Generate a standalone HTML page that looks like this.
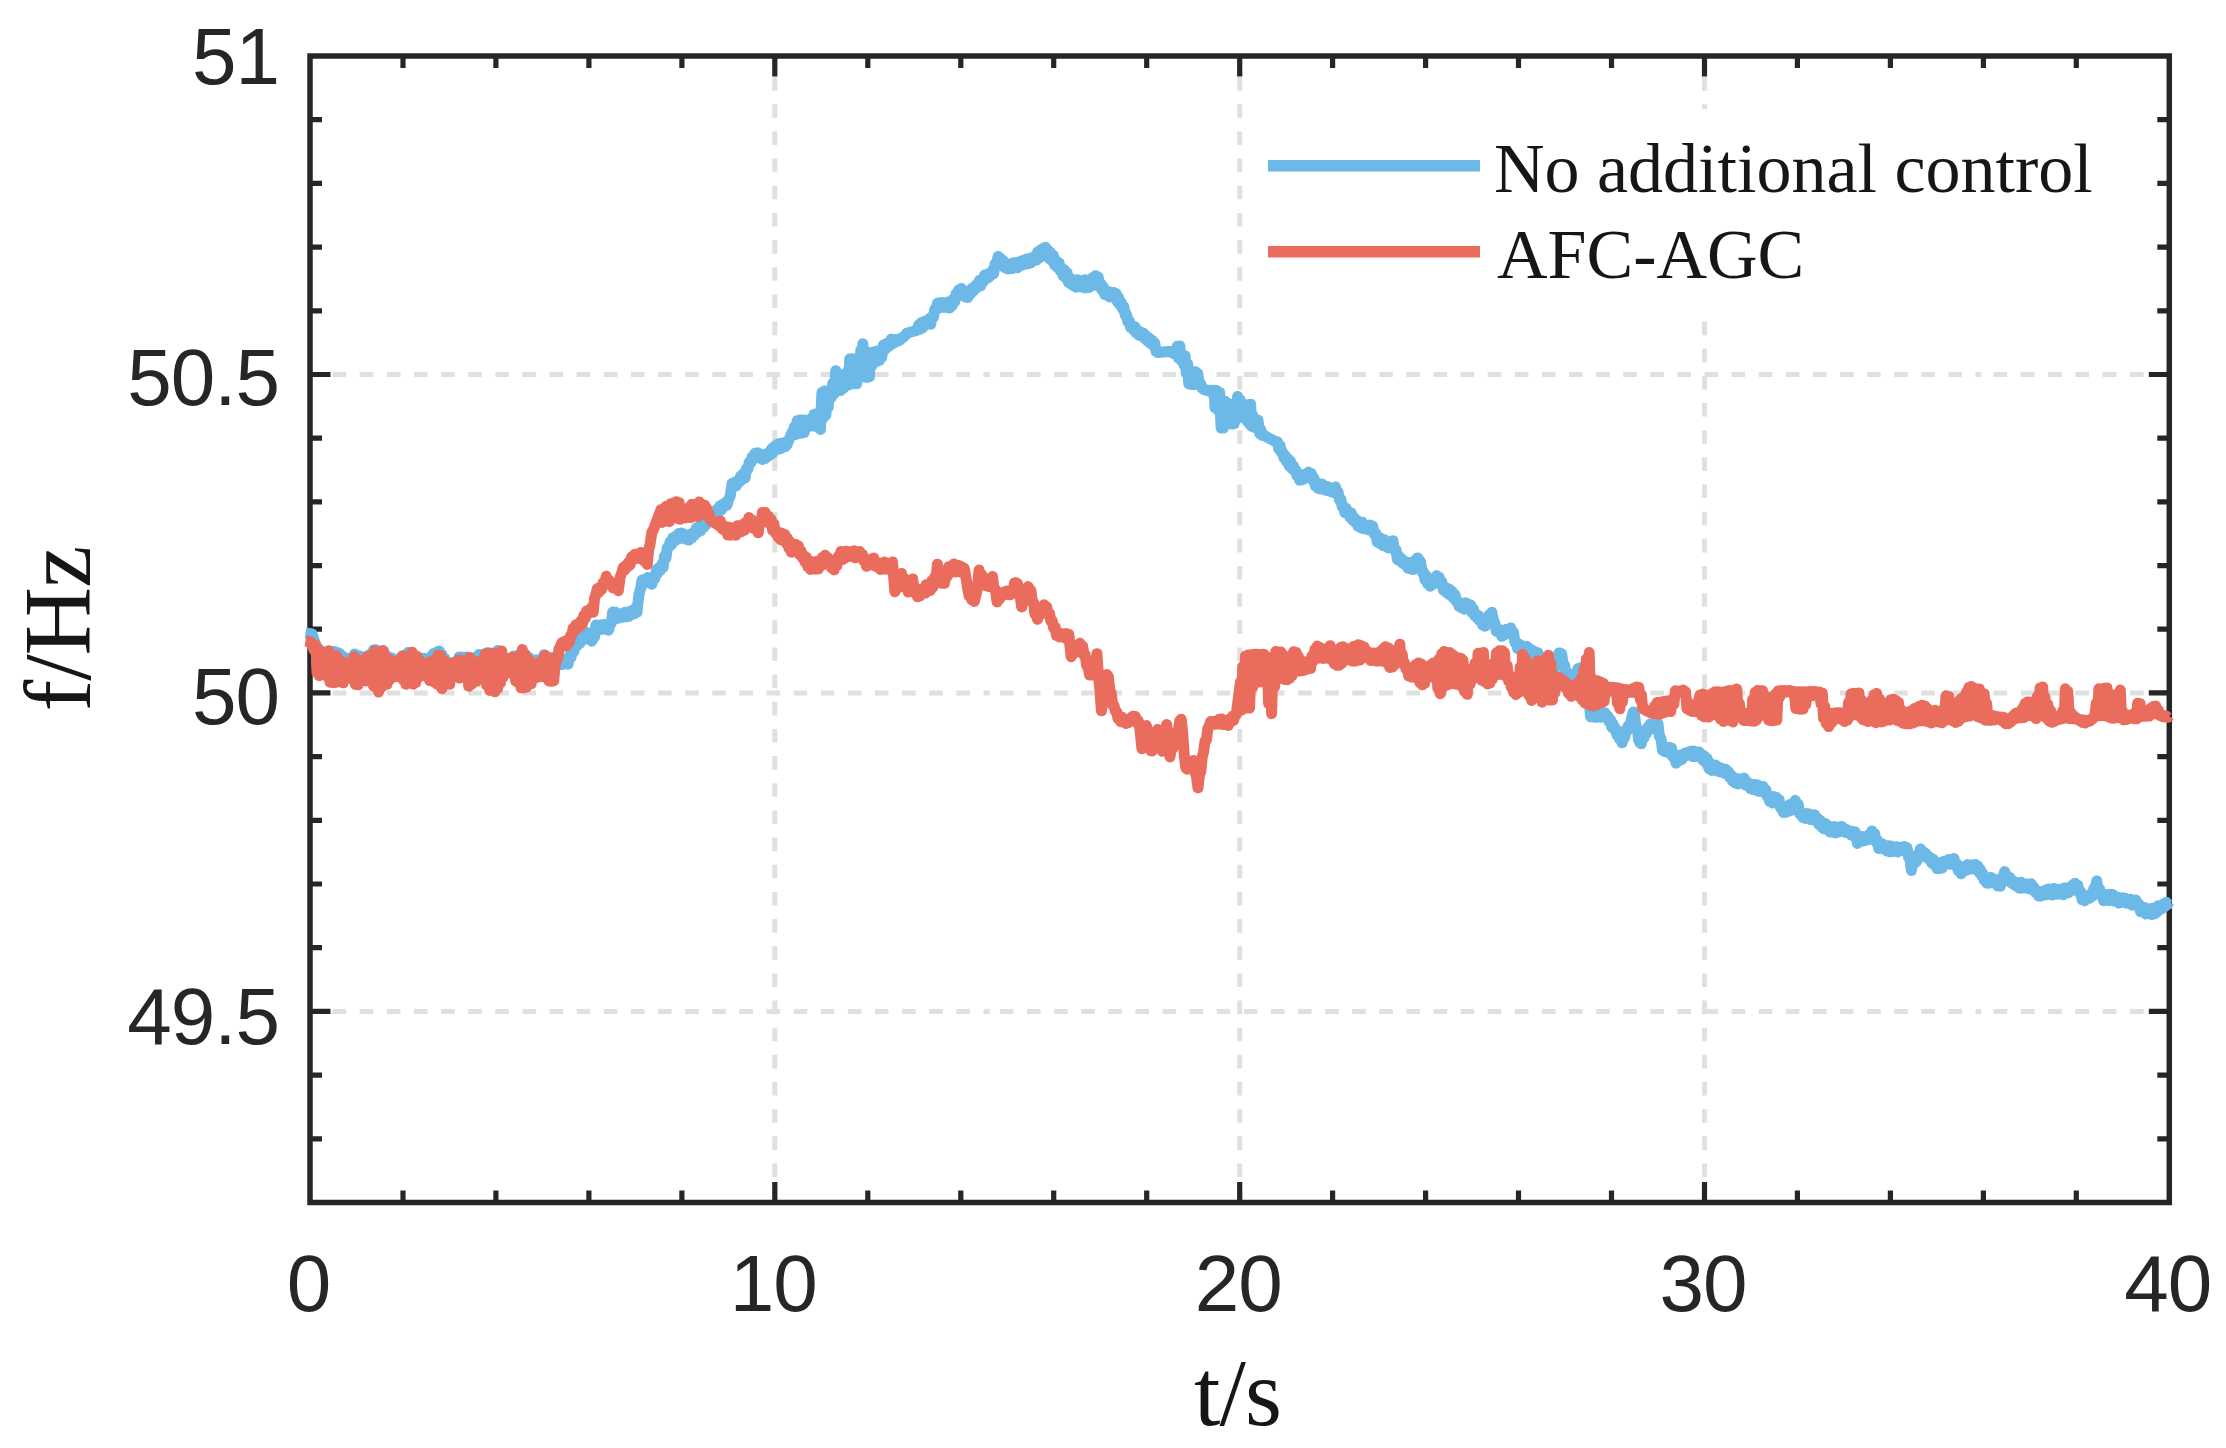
<!DOCTYPE html><html><head><meta charset="utf-8"><title>f/Hz vs t/s</title><style>html,body{margin:0;padding:0;background:#fff}svg{display:block}.tk{font-family:"Liberation Sans",sans-serif;font-size:80px;fill:#262626;letter-spacing:-1px}.lb{font-family:"Liberation Serif",serif;fill:#161616}</style></head><body>
<svg width="2226" height="1448" viewBox="0 0 2226 1448">
<rect width="2226" height="1448" fill="#fff"/>
<line x1="774.8" y1="56.0" x2="774.8" y2="1202.5" stroke="#e0e0e0" stroke-width="5" stroke-dasharray="13.6 13.56" stroke-dashoffset="6.06"/>
<line x1="1239.7" y1="56.0" x2="1239.7" y2="1202.5" stroke="#e0e0e0" stroke-width="5" stroke-dasharray="13.6 13.56" stroke-dashoffset="6.06"/>
<line x1="1704.5" y1="56.0" x2="1704.5" y2="1202.5" stroke="#e0e0e0" stroke-width="5" stroke-dasharray="13.6 13.56" stroke-dashoffset="6.06"/>
<line x1="310.0" y1="374.5" x2="989.8" y2="374.5" stroke="#e0e0e0" stroke-width="5" stroke-dasharray="13.6 13.517" stroke-dashoffset="4.5"/>
<line x1="989.8" y1="374.5" x2="1981.3" y2="374.5" stroke="#e0e0e0" stroke-width="5" stroke-dasharray="13.6 13.5" stroke-dashoffset="17"/>
<line x1="1981.3" y1="374.5" x2="2169.3" y2="374.5" stroke="#e0e0e0" stroke-width="5" stroke-dasharray="13.8 13.5" stroke-dashoffset="15.2"/>
<line x1="310.0" y1="692.9" x2="989.8" y2="692.9" stroke="#e0e0e0" stroke-width="5" stroke-dasharray="13.6 13.517" stroke-dashoffset="4.5"/>
<line x1="989.8" y1="692.9" x2="1981.3" y2="692.9" stroke="#e0e0e0" stroke-width="5" stroke-dasharray="13.6 13.5" stroke-dashoffset="17"/>
<line x1="1981.3" y1="692.9" x2="2169.3" y2="692.9" stroke="#e0e0e0" stroke-width="5" stroke-dasharray="13.8 13.5" stroke-dashoffset="15.2"/>
<line x1="310.0" y1="1011.4" x2="989.8" y2="1011.4" stroke="#e0e0e0" stroke-width="5" stroke-dasharray="13.6 13.517" stroke-dashoffset="4.5"/>
<line x1="989.8" y1="1011.4" x2="1981.3" y2="1011.4" stroke="#e0e0e0" stroke-width="5" stroke-dasharray="13.6 13.5" stroke-dashoffset="17"/>
<line x1="1981.3" y1="1011.4" x2="2169.3" y2="1011.4" stroke="#e0e0e0" stroke-width="5" stroke-dasharray="13.8 13.5" stroke-dashoffset="15.2"/>
<path d="M403.0 1202.5v-12M403.0 56.0v12M495.9 1202.5v-12M495.9 56.0v12M588.9 1202.5v-12M588.9 56.0v12M681.9 1202.5v-12M681.9 56.0v12M774.8 1202.5v-20.5M774.8 56.0v20.5M867.8 1202.5v-12M867.8 56.0v12M960.8 1202.5v-12M960.8 56.0v12M1053.7 1202.5v-12M1053.7 56.0v12M1146.7 1202.5v-12M1146.7 56.0v12M1239.7 1202.5v-20.5M1239.7 56.0v20.5M1332.6 1202.5v-12M1332.6 56.0v12M1425.6 1202.5v-12M1425.6 56.0v12M1518.5 1202.5v-12M1518.5 56.0v12M1611.5 1202.5v-12M1611.5 56.0v12M1704.5 1202.5v-20.5M1704.5 56.0v20.5M1797.4 1202.5v-12M1797.4 56.0v12M1890.4 1202.5v-12M1890.4 56.0v12M1983.4 1202.5v-12M1983.4 56.0v12M2076.3 1202.5v-12M2076.3 56.0v12M310.0 119.7h12M2169.3 119.7h-12M310.0 183.4h12M2169.3 183.4h-12M310.0 247.1h12M2169.3 247.1h-12M310.0 310.8h12M2169.3 310.8h-12M310.0 374.5h20.5M2169.3 374.5h-20.5M310.0 438.2h12M2169.3 438.2h-12M310.0 501.9h12M2169.3 501.9h-12M310.0 565.6h12M2169.3 565.6h-12M310.0 629.2h12M2169.3 629.2h-12M310.0 692.9h20.5M2169.3 692.9h-20.5M310.0 756.6h12M2169.3 756.6h-12M310.0 820.3h12M2169.3 820.3h-12M310.0 884.0h12M2169.3 884.0h-12M310.0 947.7h12M2169.3 947.7h-12M310.0 1011.4h20.5M2169.3 1011.4h-20.5M310.0 1075.1h12M2169.3 1075.1h-12M310.0 1138.8h12M2169.3 1138.8h-12" stroke="#262626" stroke-width="5.2" fill="none"/>
<rect x="310.0" y="56.0" width="1859.3000000000002" height="1146.5" fill="none" stroke="#262626" stroke-width="5.5"/>
<polyline points="305.5,633.0 312.0,634.0 316.0,646.0 316.0,645.4 317.1,665.9 318.1,648.3 319.6,667.3 321.1,651.9 322.5,666.6 323.8,651.9 325.1,667.7 326.1,652.0 327.1,669.1 328.6,652.5 329.9,673.6 331.5,651.6 332.7,674.2 334.2,651.5 335.6,673.9 336.7,652.2 338.1,676.7 339.5,653.5 341.0,674.6 342.1,656.1 343.3,672.4 344.4,659.2 345.8,670.1 346.8,658.3 348.3,669.7 349.8,660.1 351.1,672.0 352.3,658.8 353.4,678.0 354.7,653.9 356.0,678.9 357.2,655.6 358.4,679.6 360.0,655.9 361.2,675.0 362.3,659.2 363.9,671.4 365.4,657.5 366.8,669.0 367.9,655.6 369.5,670.9 370.9,653.7 372.3,675.6 373.6,649.9 374.8,676.7 376.0,649.8 377.1,683.5 378.3,652.4 379.5,682.3 380.7,654.1 382.3,679.3 383.6,651.1 385.2,677.6 386.5,655.5 388.0,675.8 389.1,657.4 390.2,675.2 391.7,657.9 393.3,672.7 394.9,661.1 396.2,668.1 397.7,660.6 399.2,669.3 400.6,657.6 401.6,671.5 402.9,656.4 403.9,672.8 405.5,654.8 406.9,676.8 408.0,652.6 409.3,675.6 410.6,653.0 411.8,677.1 413.3,654.5 414.7,674.5 415.9,655.7 417.0,673.7 418.4,657.6 420.0,667.4 421.0,658.3 422.3,668.8 423.5,658.2 425.1,670.5 426.2,661.1 427.6,670.6 428.9,658.3 430.0,674.2 431.2,656.1 432.5,674.1 433.8,653.5 435.1,680.0 436.5,652.3 437.6,679.1 439.1,651.1 440.6,677.6 441.9,654.6 443.3,677.2 444.8,658.5 446.0,675.8 447.1,662.7 448.3,677.7 449.3,662.9 450.4,672.3 451.4,665.2 452.9,669.6 453.9,663.5 455.3,670.1 456.4,660.9 458.0,670.1 459.1,657.0 460.2,671.8 461.5,657.0 462.8,669.5 463.9,658.5 465.4,672.4 466.4,656.9 467.7,673.5 468.7,658.4 470.0,676.1 471.6,659.0 472.8,675.7 474.4,657.7 475.6,673.4 476.6,658.0 477.8,670.4 478.9,654.4 480.4,670.6 481.6,655.9 482.8,671.7 484.3,653.9 485.9,676.4 487.4,652.7 488.6,680.2 490.0,652.9 491.3,685.0 492.5,655.4 493.9,681.3 495.0,652.5 496.4,679.0 497.8,650.5 499.1,676.1 500.7,655.1 502.2,672.2 503.3,656.4 504.8,668.4 505.8,658.8 507.3,664.8 508.7,658.8 510.0,664.9 511.2,659.6 512.5,668.5 513.7,655.9 514.7,670.8 515.9,657.2 517.2,677.5 518.4,655.0 519.8,676.0 521.1,653.9 522.2,676.4 523.4,653.7 524.4,678.2 525.8,655.2 527.2,679.3 528.5,657.3 529.7,674.9 531.0,659.4 532.5,671.7 533.7,661.0 535.1,671.1 536.1,660.0 537.2,671.5 538.5,661.1 540.0,672.4 541.2,658.8 542.7,669.9 544.0,654.8 545.2,669.7 546.3,657.3 547.6,672.4 549.2,658.9 550.3,677.7 551.5,659.4 552.9,673.6 551.2,662.6 552.5,657.5 553.9,661.8 555.2,659.1 556.5,663.9 557.9,660.0 559.2,665.0 560.5,661.2 562.0,664.5 563.5,659.4 565.0,663.8 566.5,658.9 568.0,664.2 569.5,655.8 571.0,657.5 572.5,649.0 573.9,651.5 575.4,643.2 576.9,645.8 578.4,640.5 579.9,643.3 581.4,637.6 582.9,640.1 584.3,634.7 585.7,637.7 587.1,632.6 588.5,636.5 590.0,633.3 591.6,641.2 593.2,638.5 594.6,636.9 595.9,625.0 597.4,629.2 598.9,625.3 600.4,629.6 601.9,624.7 603.4,629.0 604.7,624.5 606.0,628.0 607.3,625.5 608.6,630.2 609.9,624.4 611.3,623.3 612.7,612.0 614.2,616.8 615.7,612.2 617.2,618.5 618.7,614.6 620.2,617.8 621.7,613.4 623.2,617.0 624.7,612.3 626.2,616.8 627.7,612.9 629.0,616.3 630.3,611.1 631.7,614.7 633.0,609.9 634.3,613.8 635.6,607.9 637.0,612.1 638.8,595.4 640.7,587.7 642.1,580.0 643.5,584.1 644.9,579.3 646.3,581.2 647.7,577.5 649.1,582.7 650.5,579.6 651.9,584.3 653.5,577.0 655.0,578.3 656.6,569.6 657.9,572.9 659.2,567.3 660.5,570.3 661.8,564.3 663.1,567.5 664.5,556.2 665.9,558.2 667.3,547.9 668.7,547.5 670.1,541.8 671.5,544.7 672.9,537.7 674.3,541.4 675.8,536.2 677.3,539.3 678.8,533.4 680.2,538.4 681.7,533.0 683.1,537.5 684.5,535.3 685.9,539.3 687.3,535.0 688.8,540.1 690.3,534.2 691.8,538.0 693.3,532.4 694.8,535.1 696.3,528.1 697.8,532.3 699.3,525.9 700.8,530.7 702.3,525.7 703.7,527.5 705.1,522.0 706.4,524.5 707.8,518.6 709.3,521.1 710.8,514.7 712.3,517.6 713.8,512.6 715.3,514.5 716.8,509.5 718.3,512.2 719.8,505.8 721.3,510.1 722.8,504.3 724.2,506.8 725.6,502.3 727.0,505.1 728.4,500.1 730.2,495.8 732.1,483.5 733.5,487.0 734.9,482.1 736.3,485.8 737.7,480.7 739.2,482.3 740.7,476.0 742.2,479.7 743.7,473.2 745.1,477.9 746.5,468.8 747.9,468.8 749.3,462.2 750.7,463.0 752.1,457.0 753.5,459.3 754.9,453.3 756.3,455.7 757.8,452.8 759.3,457.3 760.8,454.1 762.3,459.5 763.8,456.0 765.1,458.6 766.4,453.9 767.7,456.6 769.0,452.5 770.2,454.6 771.5,448.8 772.8,453.2 774.1,446.7 775.4,450.1 776.7,444.6 778.0,449.1 779.3,443.6 780.5,448.7 781.8,443.2 783.1,447.3 784.4,442.4 785.7,446.5 787.0,444.6 792.0,432.3 793.0,434.3 794.3,427.0 795.9,434.4 797.2,420.7 798.6,433.5 800.0,420.0 801.1,433.2 802.7,420.0 804.1,432.6 805.6,420.2 807.1,427.1 808.6,420.0 810.2,426.1 811.4,418.5 812.6,425.8 814.0,414.4 815.2,426.3 816.3,413.8 817.5,427.1 819.1,412.8 820.4,429.4 821.9,392.6 823.3,417.8 824.4,391.1 825.9,414.7 827.0,391.2 828.2,407.0 829.8,390.0 831.2,397.4 832.7,383.3 834.3,393.5 835.8,370.7 837.1,391.1 838.6,374.3 840.2,390.6 841.7,375.9 843.3,388.2 844.9,375.6 846.0,385.0 847.2,371.6 848.4,385.1 849.7,359.1 851.1,383.8 852.4,358.8 853.9,383.7 855.4,358.8 856.7,383.7 858.1,357.9 859.3,378.0 860.8,350.1 861.8,376.9 862.8,343.7 864.3,376.9 865.6,351.1 866.8,377.4 868.0,354.4 869.4,376.8 870.5,352.8 871.9,365.4 873.3,351.9 874.4,361.4 875.4,351.6 876.5,361.3 878.1,350.8 879.2,360.4 880.6,350.2 881.8,357.3 883.4,345.0 885.0,349.6 886.5,343.4 887.8,347.1 888.9,342.3 890.2,345.2 891.3,339.1 892.4,343.8 893.9,339.4 895.1,342.3 896.7,339.6 897.7,341.3 899.0,339.4 900.2,339.9 901.6,338.2 902.9,337.5 904.4,336.0 905.6,334.9 906.7,333.2 917.2,330.2 918.6,325.0 919.9,329.3 921.3,322.6 922.6,327.9 924.0,321.6 925.3,325.0 926.7,321.2 928.0,323.9 929.4,318.5 930.7,324.2 932.1,316.4 933.4,317.3 934.8,309.2 936.1,309.8 937.4,303.3 938.8,308.2 940.1,302.7 941.5,307.2 942.8,302.5 944.2,307.2 945.5,303.0 946.9,307.5 948.2,302.0 949.6,308.0 950.9,302.4 952.2,305.8 953.5,298.8 954.8,301.9 956.1,293.6 957.3,296.8 958.6,290.1 959.9,291.2 961.3,288.5 962.6,295.3 964.0,290.7 965.3,297.0 966.6,294.9 967.9,297.4 969.2,290.7 970.5,294.1 971.8,288.4 973.1,291.5 974.3,286.8 975.6,288.7 976.9,284.3 978.2,286.9 979.5,280.2 980.8,285.6 982.1,279.4 983.3,281.6 984.6,275.1 985.9,279.1 987.2,274.6 988.5,277.7 989.8,273.1 991.0,275.4 992.3,270.6 993.6,273.7 995.1,263.9 996.6,264.5 998.1,256.5 999.4,262.7 1000.7,258.6 1001.9,265.1 1003.2,260.7 1004.5,267.5 1005.8,264.0 1007.1,268.7 1008.4,264.0 1009.6,268.8 1010.9,263.8 1012.2,268.6 1013.5,262.7 1014.8,267.0 1016.1,262.9 1017.3,267.8 1018.6,261.9 1019.9,265.8 1021.2,261.1 1022.5,265.1 1023.8,260.1 1025.0,264.0 1026.5,259.0 1027.9,263.7 1029.3,258.6 1030.7,263.1 1032.1,257.4 1033.5,260.2 1034.9,256.4 1036.3,260.2 1037.6,252.0 1038.9,258.0 1040.2,250.3 1041.5,255.8 1042.8,248.6 1044.1,251.7 1045.5,247.2 1046.8,256.6 1048.1,250.3 1049.4,258.8 1050.7,252.8 1052.0,260.9 1053.4,255.5 1054.8,265.3 1056.2,260.7 1057.6,267.6 1059.0,262.7 1060.4,270.9 1061.8,267.9 1063.2,275.8 1064.5,270.1 1065.8,278.0 1067.1,272.9 1068.4,282.3 1069.7,277.7 1070.9,283.9 1072.2,281.1 1073.5,285.8 1074.8,280.0 1076.1,287.2 1077.4,279.7 1078.6,286.6 1079.9,280.6 1081.2,286.7 1082.5,281.2 1083.8,287.7 1085.1,279.8 1086.3,287.8 1087.6,281.8 1088.9,287.5 1090.2,280.2 1091.5,285.9 1092.9,277.6 1094.2,284.9 1095.6,275.8 1096.9,282.4 1098.2,277.2 1099.5,287.0 1100.8,283.7 1102.1,290.1 1103.3,286.9 1104.6,294.4 1105.9,292.3 1107.2,295.5 1108.5,291.6 1109.8,297.1 1111.0,292.3 1112.3,295.8 1113.6,292.4 1114.9,295.5 1116.2,293.7 1117.5,302.0 1118.7,297.9 1120.0,305.1 1121.3,302.6 1122.6,309.0 1123.9,306.8 1125.2,314.9 1126.6,314.9 1127.9,321.9 1129.3,320.9 1130.6,327.4 1132.0,325.4 1133.4,330.0 1134.8,326.5 1136.2,333.0 1137.6,329.9 1139.0,335.3 1140.4,332.0 1141.9,336.2 1143.3,333.0 1144.7,338.5 1146.1,335.6 1147.5,340.9 1148.9,337.8 1150.3,343.4 1151.7,339.8 1153.1,345.5 1154.6,342.8 1156.1,351.5 1157.6,352.5 1172.0,351.2 1173.5,353.5 1174.8,350.1 1175.8,353.9 1177.2,346.3 1178.5,358.1 1179.8,346.0 1181.4,360.6 1182.8,355.0 1184.0,364.8 1185.1,355.9 1186.2,373.2 1187.6,363.9 1188.8,384.0 1190.0,370.9 1191.1,384.4 1192.6,371.8 1193.8,384.5 1195.3,371.7 1196.4,384.3 1197.8,373.6 1199.3,385.2 1200.8,383.9 1202.3,388.4 1203.4,389.2 1204.9,389.8 1206.3,390.1 1207.5,390.5 1208.9,390.2 1210.1,391.5 1211.2,390.2 1212.7,393.7 1214.0,390.2 1215.0,407.8 1216.5,390.6 1218.1,410.4 1219.6,392.4 1221.1,428.1 1222.1,400.6 1223.4,428.0 1224.6,401.0 1226.1,423.4 1227.7,403.2 1229.0,422.7 1230.2,404.2 1231.7,424.1 1232.7,404.4 1234.1,423.6 1235.1,404.3 1236.5,419.0 1237.6,396.6 1238.9,413.6 1240.1,399.9 1241.6,412.0 1243.0,405.6 1244.1,413.9 1245.4,405.7 1246.7,420.8 1247.8,404.7 1249.2,423.9 1250.6,404.3 1251.7,426.4 1252.7,415.2 1253.9,427.3 1255.4,419.2 1256.8,428.1 1258.0,420.3 1259.6,433.3 1260.6,429.1 1262.2,435.4 1263.4,434.7 1264.9,435.9 1276.2,441.9 1277.4,441.8 1278.7,449.1 1280.0,445.4 1281.3,452.2 1282.6,452.2 1283.9,457.8 1285.1,455.4 1286.5,461.6 1287.8,458.6 1289.2,465.9 1290.5,461.4 1291.9,468.6 1293.2,465.5 1294.4,470.7 1295.7,469.9 1297.0,475.9 1298.3,473.6 1299.6,480.2 1300.9,476.1 1302.1,479.8 1303.4,474.6 1304.7,478.5 1306.0,473.9 1307.3,477.0 1308.6,472.1 1309.8,477.5 1311.2,473.4 1312.5,480.0 1313.9,478.0 1315.2,485.7 1316.6,482.6 1317.9,488.2 1319.3,483.7 1320.6,489.1 1322.0,484.0 1323.3,488.6 1324.7,486.3 1326.0,490.3 1327.4,486.4 1328.7,490.7 1330.1,487.7 1331.4,492.0 1332.8,488.1 1334.1,492.6 1335.5,486.9 1336.8,492.3 1338.1,492.2 1339.5,499.9 1340.8,499.2 1342.2,506.6 1343.5,506.6 1344.8,512.7 1346.1,508.2 1347.4,513.9 1348.7,511.8 1350.0,517.3 1351.2,512.7 1352.5,520.1 1353.9,517.2 1355.2,522.2 1356.6,519.9 1357.9,526.2 1359.3,523.4 1360.6,527.7 1362.0,522.2 1363.3,528.8 1364.7,525.0 1366.0,527.9 1367.3,525.5 1368.7,530.0 1370.0,525.1 1371.4,530.3 1372.7,526.1 1374.2,534.1 1375.7,533.2 1377.2,542.1 1378.6,537.0 1380.0,543.7 1381.4,538.6 1382.8,545.5 1384.3,539.9 1385.7,546.5 1387.1,543.1 1388.5,547.8 1390.0,541.7 1391.5,546.5 1393.0,540.8 1394.5,550.1 1396.0,549.7 1397.4,559.6 1398.7,555.7 1400.0,561.1 1401.3,558.5 1402.6,563.3 1403.9,560.4 1405.1,564.6 1406.4,562.0 1407.8,568.0 1409.1,562.4 1410.5,568.8 1411.8,563.1 1413.2,569.5 1414.6,560.8 1416.0,564.8 1417.4,557.9 1418.8,559.2 1420.5,562.1 1422.2,572.2 1423.5,571.9 1424.9,579.5 1426.2,575.8 1427.5,583.6 1428.9,581.5 1430.2,586.3 1431.5,579.3 1432.7,584.5 1434.0,578.2 1435.3,581.0 1436.6,575.6 1437.9,579.5 1439.2,577.3 1440.6,584.2 1441.9,582.0 1443.3,590.0 1444.6,587.3 1445.9,592.2 1447.2,588.2 1448.5,594.2 1449.8,589.5 1451.0,595.8 1452.3,591.5 1453.6,598.3 1455.0,594.6 1456.3,601.5 1457.6,600.7 1459.0,606.4 1460.3,603.7 1461.6,607.9 1462.9,604.8 1464.2,609.2 1465.5,602.8 1466.8,607.6 1468.0,603.7 1469.3,608.4 1470.7,605.0 1472.0,612.6 1473.4,609.0 1474.7,615.6 1476.1,614.1 1477.3,618.2 1478.6,615.4 1479.9,620.9 1481.2,618.6 1482.5,624.8 1483.8,620.0 1485.0,626.2 1486.4,619.0 1487.7,622.2 1489.1,614.9 1490.4,617.5 1491.8,612.3 1493.3,620.2 1494.8,622.9 1496.3,631.3 1497.6,628.7 1499.0,632.6 1500.3,629.7 1501.7,636.3 1503.0,631.1 1504.3,635.0 1505.6,629.6 1506.9,633.5 1508.2,629.8 1509.4,632.5 1510.7,627.9 1512.0,632.0 1513.5,632.4 1515.0,642.6 1516.5,643.6 1517.8,648.8 1519.1,644.1 1520.3,649.5 1521.6,645.7 1522.9,650.5 1524.2,646.2 1525.5,651.5 1526.9,646.2 1528.3,652.5 1529.7,648.7 1531.1,652.4 1532.5,650.3 1533.9,655.8 1535.3,651.8 1536.7,656.7 1538.0,652.8 1539.3,659.3 1540.6,656.3 1541.8,660.7 1543.1,659.0 1544.4,665.1 1545.7,661.0 1547.0,666.3 1548.3,661.9 1549.5,666.6 1550.8,664.3 1552.1,667.5 1553.4,663.8 1554.7,669.0 1556.1,660.3 1557.5,661.6 1558.9,652.9 1560.3,653.3 1561.7,653.9 1563.1,663.6 1564.5,665.0 1565.9,674.3 1567.3,672.4 1568.6,677.3 1570.0,674.4 1571.3,681.0 1572.7,679.0 1574.0,681.2 1575.3,673.9 1576.7,674.5 1578.0,668.5 1579.4,669.6 1580.7,667.8 1582.1,674.6 1583.4,672.0 1584.8,679.6 1586.1,677.4 1587.6,693.5 1589.1,699.9 1590.6,716.7 1591.9,713.7 1593.2,717.1 1594.6,713.5 1595.9,717.2 1597.2,712.2 1598.5,716.4 1599.8,713.5 1601.1,717.2 1602.4,713.4 1603.7,716.7 1605.0,712.8 1606.3,716.4 1607.7,715.9 1609.0,721.5 1610.4,719.5 1611.7,727.2 1613.1,723.8 1614.4,729.5 1615.6,728.4 1616.9,734.8 1618.2,731.5 1619.5,739.0 1620.8,734.5 1622.1,742.8 1623.4,735.7 1624.6,737.8 1625.9,729.6 1627.2,731.1 1628.5,725.3 1629.8,727.4 1631.1,720.1 1633.3,711.9 1634.6,715.5 1636.0,727.2 1637.3,728.5 1638.7,740.3 1640.0,742.8 1641.3,743.8 1642.6,737.2 1643.9,738.1 1645.2,731.3 1646.5,733.3 1647.7,727.3 1649.0,729.6 1650.3,724.0 1651.6,727.8 1652.9,725.0 1654.2,728.9 1655.4,723.9 1656.7,727.5 1658.0,724.0 1659.5,736.5 1661.0,738.8 1662.5,750.4 1663.8,746.7 1665.1,751.8 1666.3,747.0 1667.6,751.5 1668.9,747.3 1670.2,753.9 1671.5,748.1 1673.0,757.0 1674.5,754.9 1676.0,763.1 1677.4,757.5 1678.8,759.9 1680.2,754.9 1681.6,759.7 1683.0,754.3 1684.4,756.5 1685.8,752.7 1687.2,755.3 1688.6,751.9 1689.9,755.2 1691.2,751.0 1692.6,756.5 1693.9,751.0 1695.3,756.6 1696.6,752.1 1698.0,756.2 1699.3,751.9 1700.7,757.1 1702.0,754.5 1703.2,760.3 1704.5,756.0 1705.8,762.8 1707.1,758.5 1708.4,765.7 1709.7,762.7 1709.2,769.0 1710.5,764.8 1711.8,770.4 1713.1,765.2 1714.3,769.6 1715.6,765.1 1716.9,770.8 1718.2,767.3 1719.5,771.8 1720.8,767.7 1722.0,772.1 1723.3,769.3 1724.6,773.3 1725.9,769.2 1727.2,773.9 1728.5,771.7 1729.7,777.4 1731.0,774.9 1732.3,780.9 1733.6,777.2 1734.9,782.9 1736.2,781.1 1737.5,783.9 1738.8,778.8 1740.1,783.2 1741.4,779.9 1742.7,783.3 1744.0,778.1 1745.3,784.9 1746.6,781.5 1747.9,785.7 1749.3,783.5 1750.6,788.7 1751.9,785.2 1753.3,789.6 1754.7,784.5 1756.1,790.4 1757.5,784.8 1758.9,791.3 1760.3,786.4 1761.7,791.6 1763.1,786.4 1764.5,792.0 1765.8,789.7 1767.2,796.6 1768.5,796.2 1769.8,801.5 1771.2,797.9 1772.5,803.0 1773.8,796.6 1775.1,801.8 1776.4,797.3 1777.7,802.8 1779.1,799.5 1780.5,807.9 1781.9,805.8 1783.3,812.4 1784.6,808.6 1785.9,812.3 1787.2,806.5 1788.5,811.3 1789.7,804.5 1791.0,810.4 1792.3,804.8 1793.8,806.3 1795.3,800.3 1796.8,804.4 1798.3,804.8 1799.8,813.6 1801.3,813.7 1802.6,817.4 1804.0,813.9 1805.3,818.4 1806.7,813.6 1808.0,817.9 1809.4,813.9 1810.7,819.6 1812.1,815.0 1813.4,820.1 1814.8,814.7 1816.1,820.2 1817.5,818.1 1818.8,824.4 1820.2,820.3 1821.5,827.0 1822.9,823.5 1824.3,829.1 1825.7,823.6 1827.1,828.9 1828.5,825.8 1829.9,831.9 1831.3,827.7 1832.7,832.1 1834.1,826.5 1835.4,832.8 1836.7,827.8 1838.0,832.1 1839.3,827.1 1840.6,831.6 1841.9,826.5 1843.3,831.4 1844.6,828.7 1845.9,832.6 1847.2,829.7 1848.6,833.2 1849.9,831.0 1851.2,835.1 1852.5,831.4 1853.9,835.4 1855.2,832.0 1857.4,843.4 1858.7,837.3 1860.0,841.5 1861.3,836.4 1862.6,841.0 1863.9,836.9 1865.1,840.5 1866.4,836.7 1867.8,839.7 1869.1,834.5 1870.5,837.2 1871.8,831.0 1873.2,836.3 1874.6,833.4 1876.0,842.2 1877.4,840.1 1878.8,848.5 1880.2,842.8 1881.5,848.1 1882.9,844.0 1884.3,849.1 1885.7,845.9 1887.0,851.0 1888.4,845.8 1889.8,851.8 1891.1,846.0 1892.5,851.6 1893.8,847.5 1895.1,850.3 1896.4,846.7 1897.7,851.9 1899.0,847.3 1900.3,850.5 1901.6,847.9 1902.9,850.7 1904.2,846.4 1905.6,850.3 1906.9,847.4 1908.4,856.9 1909.9,858.3 1911.4,870.5 1912.6,863.6 1913.9,864.0 1915.2,857.1 1916.5,861.4 1917.8,854.3 1919.1,855.5 1920.3,849.0 1921.6,854.2 1922.9,851.2 1924.2,856.5 1925.5,853.4 1926.8,857.5 1928.0,855.8 1929.3,859.6 1930.6,858.0 1931.9,863.2 1933.2,859.2 1934.5,865.0 1935.7,861.6 1937.0,868.6 1938.3,865.1 1939.6,868.6 1940.9,863.9 1942.2,867.9 1943.4,861.4 1944.7,864.4 1946.0,860.7 1947.3,864.2 1948.6,859.4 1950.0,864.2 1951.3,859.8 1952.7,864.4 1954.0,858.5 1955.4,865.4 1956.8,864.0 1958.2,870.7 1959.6,868.8 1961.0,873.8 1962.3,867.1 1963.6,871.0 1964.9,867.2 1966.2,870.5 1967.5,864.6 1968.8,868.4 1970.1,865.1 1971.4,869.1 1972.6,865.0 1973.9,868.9 1975.2,864.4 1976.5,867.7 1977.8,865.9 1979.1,872.5 1980.3,869.4 1981.6,875.6 1982.9,873.6 1984.2,880.1 1985.5,878.7 1986.8,883.2 1988.0,877.8 1989.3,883.1 1990.6,877.4 1991.9,882.2 1993.2,878.7 1994.5,883.2 1996.0,880.7 1997.5,885.8 1999.0,884.5 2000.4,886.3 2001.8,877.5 2003.2,880.5 2004.6,871.6 2005.9,879.2 2007.2,875.7 2008.5,880.8 2009.8,877.4 2011.1,882.8 2012.4,880.3 2013.8,884.6 2015.2,882.3 2016.6,886.4 2018.1,883.0 2019.5,888.2 2020.9,882.2 2022.3,888.0 2023.7,884.5 2024.9,887.6 2026.2,883.9 2027.5,888.5 2028.8,884.2 2030.1,888.9 2031.4,883.8 2032.7,889.1 2034.1,887.4 2035.6,892.8 2037.1,892.0 2038.5,896.0 2040.0,891.7 2041.4,895.9 2042.8,891.2 2044.2,894.5 2045.6,890.1 2047.0,894.8 2048.4,888.9 2049.7,893.8 2051.1,889.6 2052.4,895.0 2053.8,888.5 2055.1,894.3 2056.5,890.4 2057.8,894.0 2059.2,889.2 2060.5,893.6 2061.9,890.5 2063.1,894.8 2064.4,887.9 2065.7,892.3 2067.0,888.3 2068.3,892.7 2069.6,888.0 2070.8,890.9 2072.2,885.3 2073.6,889.6 2075.0,883.2 2076.5,885.3 2077.9,885.5 2079.3,892.6 2080.7,891.6 2082.1,899.8 2083.4,896.4 2084.6,900.8 2085.9,896.1 2087.2,898.7 2088.5,895.6 2089.8,898.2 2091.1,893.9 2092.5,896.2 2093.9,888.5 2095.3,888.6 2096.7,881.0 2098.1,889.4 2099.5,888.7 2100.9,895.5 2102.3,895.7 2103.6,900.7 2104.8,896.0 2106.1,899.2 2107.4,894.6 2108.7,900.6 2110.0,894.2 2111.3,899.6 2112.6,894.6 2113.8,900.9 2115.1,897.0 2116.4,901.5 2117.7,897.0 2119.0,903.1 2120.3,899.3 2121.6,902.5 2122.9,897.7 2124.2,902.5 2125.5,898.2 2126.8,903.2 2128.1,899.6 2129.4,903.2 2130.7,899.3 2132.0,905.0 2133.4,900.2 2134.7,904.9 2136.0,900.0 2137.5,906.1 2139.0,904.3 2140.5,911.7 2141.9,908.4 2143.3,912.4 2144.7,907.6 2146.1,914.0 2147.5,908.7 2148.9,912.7 2150.3,908.8 2151.7,914.5 2153.0,908.2 2154.3,914.0 2155.5,908.2 2156.8,912.5 2158.1,905.8 2159.4,909.9 2160.7,905.5 2162.1,908.6 2163.5,903.7 2164.8,906.7 2166.2,902.3 2167.6,904.5 2169.0,901.9" fill="none" stroke="#6cb8e6" stroke-width="11" stroke-linejoin="round" stroke-linecap="butt"/>
<polyline points="305.5,641.0 311.0,642.0 314.0,650.0 316.0,645.3 317.0,672.5 318.1,650.3 319.1,675.6 320.6,651.0 322.2,672.6 323.8,654.1 324.9,674.9 326.4,654.5 327.8,677.2 328.9,650.8 330.1,682.2 331.4,655.1 332.8,682.7 334.1,657.1 335.3,682.4 336.7,655.8 337.8,681.7 339.1,660.0 340.5,681.7 341.8,661.7 343.1,682.8 344.5,663.6 345.6,677.7 346.7,663.4 347.7,677.2 348.9,662.7 350.3,676.4 351.8,661.2 353.0,680.0 354.1,656.5 355.4,684.4 356.6,659.3 358.2,684.8 359.6,660.2 361.0,680.8 362.3,661.2 363.3,680.0 364.5,660.9 365.6,680.9 366.9,657.0 368.2,677.5 369.8,656.1 370.8,681.1 372.0,654.8 373.5,686.0 374.6,651.0 376.1,687.8 377.2,653.3 378.6,692.1 380.2,654.7 381.7,687.1 382.9,650.6 384.1,683.5 385.4,657.7 386.9,684.3 388.1,658.5 389.6,679.6 391.0,660.4 392.5,677.5 393.8,665.7 395.0,675.4 396.3,666.5 397.7,676.6 399.2,660.7 400.8,677.5 402.1,656.0 403.5,680.1 404.8,660.5 405.9,684.3 407.3,656.3 408.4,681.0 409.6,655.2 410.9,680.7 412.2,652.2 413.3,684.2 414.4,656.3 415.7,682.4 417.1,656.7 418.2,677.2 419.5,660.8 421.1,673.1 422.4,663.3 423.7,673.2 425.2,664.5 426.8,676.7 428.4,662.7 429.6,680.5 431.0,661.6 432.1,681.0 433.2,660.7 434.3,682.2 435.6,659.6 436.7,683.9 437.9,655.1 439.4,685.4 440.6,655.8 442.0,688.7 443.5,660.6 444.5,683.7 445.7,663.9 446.9,683.1 448.2,665.3 449.7,684.2 451.0,663.0 452.1,676.4 453.3,666.0 454.4,676.9 455.6,662.5 456.7,676.7 458.2,660.1 459.3,678.1 460.3,660.0 461.4,676.8 462.5,660.9 463.8,676.3 465.1,661.4 466.3,678.1 467.6,661.6 468.7,686.3 469.8,657.5 471.4,684.3 472.5,661.1 473.7,680.3 475.0,663.5 476.2,681.3 477.5,662.0 478.5,679.4 479.5,663.2 480.7,676.1 482.1,660.7 483.6,678.8 485.2,654.0 486.6,685.3 488.1,653.2 489.6,690.4 490.9,654.7 492.4,688.9 493.8,653.6 494.9,691.8 496.3,653.2 497.7,688.4 499.1,653.2 500.5,683.0 501.7,650.9 502.8,677.4 504.1,658.3 505.5,673.5 506.9,659.7 508.3,670.9 509.3,659.2 510.7,673.1 512.0,657.3 513.1,673.3 514.1,660.2 515.7,681.2 517.3,657.0 518.4,682.9 519.5,657.4 521.0,687.8 522.3,649.4 523.6,687.8 524.7,653.8 526.2,687.2 527.7,658.7 528.9,681.1 530.1,661.3 531.2,683.8 532.3,663.6 533.5,678.7 535.0,667.0 536.5,677.3 538.0,665.4 539.2,676.8 540.4,661.6 541.5,676.6 542.7,659.1 543.8,675.4 545.2,655.4 546.3,675.3 547.4,659.5 548.7,681.0 549.9,658.3 551.2,681.3 552.5,662.7 553.7,680.9 555.3,662.4 557.7,658.6 559.1,648.5 560.5,646.2 562.0,642.5 563.5,645.7 565.0,641.3 566.5,646.1 568.0,639.7 569.3,642.6 570.6,635.5 571.9,634.8 573.2,628.1 574.5,630.7 575.8,624.8 577.1,628.5 578.4,624.3 579.7,626.6 581.0,620.9 582.4,624.0 583.8,615.5 585.2,618.7 586.6,611.1 587.9,613.4 589.2,609.8 590.5,612.7 591.8,607.2 593.2,612.1 594.6,598.0 595.9,594.7 597.3,588.6 598.7,592.5 600.1,587.2 601.5,589.7 603.1,582.7 604.7,583.9 606.2,576.2 607.6,583.1 609.0,580.2 610.4,584.8 611.8,583.1 613.1,588.0 614.4,583.7 615.7,588.4 617.0,586.5 618.3,590.7 620.2,576.9 622.1,571.8 623.4,567.2 624.7,570.0 626.0,565.4 627.3,567.1 628.6,562.2 630.1,564.9 631.7,556.8 633.2,559.8 634.7,554.3 636.2,557.7 637.7,554.1 639.2,558.4 640.7,552.4 642.0,558.2 643.3,556.8 644.6,561.6 645.9,558.4 647.2,564.4 648.6,550.5 650.0,544.4 651.9,532.3 653.8,528.8 661.0,509.6 662.0,522.4 663.3,512.2 664.4,517.1 665.8,506.6 667.0,512.6 668.1,510.1 669.3,521.6 670.7,503.8 672.3,518.3 673.4,502.9 674.7,515.0 676.2,501.8 677.5,518.4 679.1,502.8 680.1,519.3 681.3,510.7 682.9,513.7 684.5,511.3 685.7,517.8 687.2,510.2 688.2,514.3 689.5,506.8 690.7,517.6 691.7,504.3 692.9,510.3 694.0,509.1 695.1,514.7 696.6,506.7 697.8,516.4 699.1,502.0 700.7,512.8 701.9,505.3 702.9,510.5 704.4,505.1 705.4,514.6 706.4,507.9 707.6,513.2 709.1,513.8 710.3,519.9 719.0,525.6 720.5,521.0 722.0,528.8 723.5,525.3 725.0,530.8 726.5,526.8 727.8,535.1 729.2,527.2 730.5,535.1 731.8,529.0 733.2,533.0 734.5,527.7 735.8,535.2 737.2,525.8 738.6,532.5 740.0,526.9 741.4,531.7 742.9,524.3 744.4,530.2 745.9,522.2 747.4,526.9 748.9,517.6 750.2,526.5 751.5,519.6 752.9,528.0 754.2,523.1 755.5,529.3 756.9,525.1 758.2,532.8 759.6,522.8 761.0,522.7 762.4,512.4 763.8,514.4 765.3,512.6 766.8,518.5 768.3,515.9 769.7,524.1 771.2,519.4 772.6,530.4 773.9,523.8 775.3,533.0 776.6,531.0 778.0,537.0 779.3,532.5 780.7,539.8 782.0,533.5 783.4,539.2 784.7,534.5 786.1,543.1 787.4,538.3 788.8,548.0 790.1,542.2 791.4,552.2 792.9,546.1 794.3,551.6 795.7,544.4 797.1,549.7 798.4,545.9 799.7,554.7 801.0,550.9 802.3,557.7 803.6,555.3 804.9,561.9 806.3,557.3 807.7,566.6 809.1,562.3 810.5,569.4 811.8,561.6 813.2,569.0 814.5,563.2 815.8,569.1 817.1,561.2 818.4,568.9 819.7,561.5 821.0,565.5 822.3,557.5 823.6,564.7 825.0,555.3 826.3,560.5 827.6,557.4 828.9,562.9 830.2,559.9 831.5,567.7 832.8,561.0 834.1,569.9 835.5,560.7 836.8,565.6 838.2,556.4 839.5,559.8 840.9,551.4 842.1,559.6 843.4,553.1 844.7,558.3 846.0,551.2 847.3,556.8 848.6,551.7 849.8,556.3 851.3,552.0 852.7,556.6 854.1,550.8 855.5,557.8 856.9,552.0 858.3,555.9 859.7,551.6 861.1,557.9 862.4,554.1 863.8,560.8 865.1,558.1 866.5,566.3 867.8,561.1 869.3,564.6 870.8,559.4 872.3,562.6 873.7,557.9 875.0,566.1 876.4,562.0 877.7,567.3 879.0,562.9 880.4,569.4 881.7,564.1 883.1,569.1 884.4,562.1 885.8,569.1 887.1,563.3 888.5,569.3 889.8,563.7 891.2,570.8 892.5,562.0 894.8,591.7 896.1,584.6 897.5,588.3 898.8,580.1 900.2,581.7 901.5,573.5 902.9,582.9 904.2,578.2 905.6,587.4 906.9,582.6 908.2,592.0 909.7,584.7 911.2,586.2 912.7,579.0 914.4,592.6 916.1,591.5 917.4,596.8 918.6,590.6 919.9,596.0 921.2,589.3 922.4,593.6 923.7,588.3 925.0,593.1 926.2,584.7 927.6,590.1 928.9,584.2 930.3,590.4 931.6,581.0 933.0,586.8 934.5,577.3 936.0,578.5 937.4,564.3 938.9,575.3 940.3,573.8 941.7,583.3 943.1,579.5 944.5,583.3 945.9,572.1 947.3,576.3 948.7,566.7 950.0,572.6 951.2,566.2 952.5,571.2 953.8,564.0 955.1,572.1 956.4,565.7 957.7,570.0 959.0,565.5 960.3,572.0 961.6,566.6 962.9,571.9 964.2,568.2 965.5,574.9 967.8,589.2 969.1,596.0 970.4,591.7 971.7,599.7 973.0,594.8 974.3,601.4 975.6,596.1 977.3,589.1 979.0,570.1 980.3,578.7 981.6,574.5 982.9,581.8 984.2,577.5 985.6,585.6 986.9,581.0 988.3,586.4 989.7,579.4 991.1,582.9 992.5,576.6 994.0,589.1 995.5,589.7 997.0,601.9 998.4,593.0 999.8,598.8 1001.2,593.2 1002.6,595.6 1003.9,592.0 1005.2,594.6 1006.4,591.0 1007.7,594.2 1009.0,590.7 1010.3,594.8 1011.6,591.2 1013.1,590.7 1014.6,582.9 1016.1,582.7 1017.5,583.5 1018.9,594.6 1020.3,597.4 1021.7,606.9 1023.0,599.9 1024.3,601.9 1025.6,594.4 1026.9,595.7 1028.2,586.6 1029.5,589.4 1030.9,590.3 1032.2,600.9 1033.6,602.5 1034.9,614.1 1036.3,615.1 1037.6,619.3 1038.8,612.9 1040.1,615.2 1041.4,607.5 1042.7,609.9 1044.0,604.8 1045.3,607.5 1046.7,606.7 1048.1,614.5 1049.5,613.2 1050.9,621.1 1052.3,620.8 1053.7,628.3 1055.1,627.0 1056.5,635.5 1057.9,632.7 1059.2,636.9 1060.6,633.3 1062.0,636.7 1063.4,634.3 1064.7,637.7 1066.1,633.5 1067.5,639.5 1068.8,634.4 1071.1,656.8 1072.4,651.2 1073.6,653.9 1074.9,648.9 1076.2,652.1 1077.4,646.4 1078.7,649.8 1079.9,643.2 1081.2,646.4 1082.6,645.8 1083.9,654.9 1085.2,655.0 1086.6,665.4 1087.9,665.7 1089.6,674.9 1091.3,675.0 1092.7,674.8 1094.1,664.2 1095.5,663.4 1096.9,653.7 1098.4,675.7 1099.9,689.4 1101.4,710.8 1102.8,697.9 1104.2,693.0 1105.6,679.5 1107.0,674.6 1108.4,676.9 1109.8,690.2 1111.2,693.2 1112.7,705.4 1114.0,705.6 1115.3,711.1 1116.7,711.6 1118.0,718.6 1119.4,717.3 1120.7,721.8 1122.0,717.0 1123.2,721.7 1124.5,719.0 1125.8,723.4 1127.1,720.1 1128.4,722.7 1129.8,718.6 1131.2,720.7 1132.6,716.3 1134.0,718.7 1135.4,716.4 1136.8,722.8 1138.2,720.6 1139.6,726.2 1141.9,748.7 1143.3,743.2 1144.8,729.7 1146.3,725.4 1147.8,732.1 1149.3,744.6 1150.8,750.6 1152.2,751.0 1153.5,740.4 1154.9,740.2 1156.2,731.6 1157.6,729.5 1159.1,734.1 1160.6,747.1 1162.1,751.2 1163.6,745.0 1165.1,730.0 1166.6,724.6 1168.2,735.8 1169.9,756.9 1171.3,748.3 1172.7,748.6 1174.1,741.2 1175.5,741.5 1176.9,732.6 1178.4,730.1 1179.8,720.8 1181.2,719.3 1182.7,732.8 1184.2,755.0 1185.7,767.3 1187.0,769.2 1188.3,764.1 1189.6,767.5 1190.9,761.8 1192.2,765.9 1193.5,760.5 1195.0,772.0 1196.5,776.7 1198.0,787.9 1199.4,774.8 1200.8,771.5 1202.2,757.1 1203.6,751.9 1205.0,741.2 1206.4,740.0 1207.8,728.5 1209.2,726.5 1210.6,721.5 1212.0,724.8 1213.4,721.6 1214.9,724.3 1216.3,721.2 1217.7,724.0 1219.1,719.2 1220.5,724.1 1221.8,718.9 1223.1,724.5 1224.4,720.5 1225.7,724.6 1227.0,720.5 1228.3,725.5 1229.6,719.2 1230.9,721.7 1232.3,716.3 1233.6,720.6 1234.9,714.6 1236.2,714.8 1240.5,681.8 1241.5,710.2 1242.7,666.6 1244.2,705.1 1245.4,656.1 1246.6,708.0 1248.2,655.1 1249.6,708.0 1251.2,654.8 1252.7,687.3 1254.2,654.3 1255.6,681.2 1256.8,654.2 1258.2,682.1 1259.7,654.4 1260.7,681.8 1262.3,654.3 1263.4,681.8 1264.4,654.6 1265.8,681.5 1267.2,656.9 1268.6,703.7 1270.1,662.0 1271.6,713.7 1273.1,658.6 1274.7,686.7 1275.8,651.6 1276.8,679.9 1278.3,651.9 1279.8,676.7 1281.0,652.0 1282.0,676.8 1283.2,655.1 1284.4,679.5 1285.6,658.9 1287.0,679.7 1288.2,661.1 1289.5,678.2 1290.9,657.2 1292.1,675.5 1293.6,651.7 1295.0,671.7 1296.1,652.4 1297.2,670.8 1298.3,656.4 1299.4,671.0 1301.0,660.6 1302.3,670.8 1303.8,661.6 1305.1,669.9 1306.6,662.5 1308.1,668.8 1309.3,662.2 1310.6,668.3 1311.9,656.0 1313.4,660.9 1314.9,649.3 1316.1,658.5 1317.3,646.1 1318.4,657.8 1319.4,647.3 1320.6,657.9 1321.9,651.2 1323.4,658.4 1324.7,651.9 1326.1,657.9 1327.5,648.2 1328.7,658.1 1330.2,645.7 1331.7,660.1 1332.9,649.8 1334.3,663.7 1335.5,652.5 1336.7,665.3 1337.9,651.9 1339.4,665.2 1340.5,647.6 1341.7,663.2 1342.8,646.7 1343.9,660.6 1345.3,648.2 1346.9,659.9 1348.1,650.4 1349.6,659.9 1350.9,648.2 1352.2,661.1 1353.4,646.6 1354.4,661.2 1355.9,646.0 1357.2,660.6 1358.4,644.7 1359.8,659.9 1361.2,645.6 1362.5,657.9 1364.0,647.0 1365.1,656.3 1366.6,650.7 1368.0,657.3 1369.4,653.2 1370.7,660.5 1372.1,652.9 1373.4,660.5 1374.8,653.1 1375.9,661.0 1377.2,652.9 1378.4,661.1 1380.0,651.8 1381.4,660.9 1382.6,649.3 1384.2,661.6 1385.5,646.7 1387.0,663.0 1388.3,648.0 1389.7,667.4 1391.1,653.8 1392.5,667.0 1393.8,654.1 1395.4,664.1 1396.8,649.6 1398.2,661.5 1399.8,644.2 1400.9,661.3 1402.1,654.2 1403.3,662.1 1404.8,663.2 1405.9,668.9 1407.4,668.3 1408.7,676.1 1410.2,670.9 1411.3,677.1 1412.8,670.4 1414.1,677.3 1415.5,664.8 1417.1,678.2 1418.4,662.9 1419.9,682.8 1421.1,663.9 1422.2,684.8 1423.4,669.2 1424.6,683.2 1425.7,670.1 1426.8,678.3 1428.3,668.7 1429.4,675.6 1430.7,664.9 1432.1,675.8 1433.3,663.1 1434.8,678.3 1436.3,662.1 1437.8,688.2 1439.3,658.6 1440.3,693.7 1441.8,653.8 1443.0,687.3 1444.1,651.4 1445.5,684.7 1446.6,653.2 1448.1,684.6 1449.6,652.4 1451.1,682.5 1452.7,654.7 1454.2,684.0 1455.6,657.1 1457.0,684.2 1458.5,657.9 1459.7,685.3 1460.8,658.2 1461.8,686.6 1462.9,660.1 1464.2,691.1 1465.7,668.8 1467.2,694.3 1468.6,675.9 1470.1,683.9 1471.3,675.2 1472.4,679.2 1473.8,668.7 1475.0,663.1 1476.6,677.5 1478.1,653.3 1479.4,677.8 1480.5,653.3 1481.8,680.4 1483.4,652.4 1484.6,681.8 1486.1,665.3 1487.4,683.9 1488.7,670.1 1489.9,683.0 1491.1,669.4 1492.3,678.9 1493.9,662.7 1495.3,675.2 1496.5,652.8 1497.9,674.3 1499.3,650.8 1500.8,673.6 1502.1,650.8 1503.3,675.1 1504.4,652.8 1505.8,675.2 1507.2,665.7 1508.6,681.1 1510.0,675.5 1511.3,687.3 1512.5,682.9 1513.7,692.5 1514.8,683.9 1515.8,694.4 1517.4,683.0 1518.6,692.4 1520.1,667.1 1521.2,691.4 1522.5,654.4 1523.7,689.7 1525.3,658.7 1526.6,691.9 1527.7,667.4 1529.1,695.6 1530.3,666.2 1531.6,700.4 1533.1,666.1 1534.4,694.5 1535.5,662.9 1536.6,694.4 1537.6,660.8 1539.0,696.4 1540.6,663.0 1542.1,702.2 1543.1,664.9 1544.3,700.2 1545.4,659.1 1546.8,699.8 1548.4,655.2 1549.4,700.1 1550.8,663.0 1552.4,699.9 1554.0,676.2 1555.0,692.6 1556.4,677.0 1557.4,685.0 1558.9,677.5 1560.4,683.5 1561.4,679.1 1562.7,685.2 1564.2,681.2 1565.6,688.2 1567.0,683.8 1568.3,693.2 1569.7,686.2 1571.2,696.4 1572.4,686.6 1574.0,693.7 1575.5,684.7 1576.8,693.2 1578.3,682.3 1579.5,696.8 1581.1,678.5 1582.5,700.1 1584.0,669.2 1585.2,703.3 1586.3,659.0 1587.7,701.4 1589.2,652.6 1590.7,705.2 1592.2,678.7 1593.4,706.0 1594.9,680.5 1596.4,704.7 1597.5,680.7 1599.0,703.4 1600.4,682.0 1601.5,702.6 1603.0,683.3 1604.1,701.3 1605.5,686.8 1606.8,692.9 1608.3,687.1 1609.4,690.0 1611.0,687.2 1612.3,688.1 1613.6,687.3 1614.7,689.3 1616.2,687.7 1617.5,703.4 1618.8,688.3 1619.8,708.8 1621.1,688.7 1622.4,701.8 1623.5,689.6 1624.8,693.9 1625.8,689.7 1627.4,692.3 1628.6,689.9 1629.8,692.3 1631.1,689.4 1632.5,692.3 1634.1,688.1 1635.1,692.4 1636.2,687.0 1637.3,692.6 1638.8,687.4 1640.4,699.9 1641.4,694.8 1642.6,708.8 1644.2,708.1 1645.5,710.4 1647.1,711.2 1648.4,711.7 1649.4,711.4 1651.0,713.1 1652.1,711.0 1653.3,713.7 1654.8,705.8 1655.8,713.5 1657.3,702.5 1658.9,714.6 1660.0,702.2 1661.5,713.5 1662.7,701.7 1664.2,712.5 1665.3,701.2 1666.4,711.2 1667.5,701.0 1668.6,711.0 1669.6,701.3 1670.7,711.6 1672.3,699.3 1673.8,704.2 1675.4,690.7 1676.6,692.7 1678.2,691.2 1679.6,691.2 1680.8,691.0 1682.1,690.7 1683.2,690.1 1684.2,693.1 1685.5,691.7 1687.0,708.8 1688.3,702.4 1689.5,710.2 1690.7,704.6 1692.0,711.4 1693.5,705.6 1695.1,711.6 1696.6,705.0 1697.7,711.3 1698.9,699.7 1700.0,694.9 1701.6,715.4 1703.1,693.9 1704.3,716.8 1705.4,696.7 1706.5,716.7 1707.5,697.1 1708.7,717.1 1709.7,695.3 1711.1,714.1 1712.3,693.4 1713.5,712.0 1714.5,692.0 1716.0,713.1 1717.1,691.7 1718.2,716.3 1719.5,692.0 1720.6,719.2 1722.0,693.2 1723.4,721.5 1724.4,691.8 1725.7,720.5 1726.7,691.2 1727.9,720.2 1729.4,690.4 1730.4,720.0 1731.7,691.4 1732.9,722.0 1734.4,690.0 1735.5,717.5 1736.8,689.1 1738.1,715.4 1739.4,703.7 1740.9,717.3 1742.4,712.6 1743.8,720.5 1745.3,713.3 1746.8,720.4 1748.1,713.9 1749.4,720.7 1750.4,711.7 1751.5,720.9 1752.6,699.6 1754.1,721.2 1755.2,692.4 1756.3,720.2 1757.6,690.5 1758.9,716.9 1760.0,690.8 1761.4,712.2 1762.5,690.7 1763.8,711.5 1764.9,695.8 1766.0,713.3 1767.5,697.2 1768.8,720.2 1769.9,697.9 1771.5,720.7 1772.7,696.8 1774.1,720.4 1775.6,693.9 1776.8,720.0 1778.0,691.0 1779.6,697.4 1781.2,690.6 1782.7,692.7 1784.0,690.6 1785.5,692.2 1786.8,690.7 1788.0,691.8 1789.1,690.7 1790.4,691.7 1791.4,690.9 1792.9,693.9 1794.3,691.6 1795.8,708.5 1796.8,691.9 1798.0,708.9 1799.2,691.8 1800.7,709.2 1801.9,691.9 1803.1,708.9 1804.3,691.7 1805.7,704.4 1807.0,691.9 1808.4,696.8 1809.6,691.6 1810.7,695.9 1811.8,691.6 1813.0,695.5 1814.2,691.6 1815.5,694.9 1816.9,691.8 1818.3,695.4 1819.7,692.0 1821.0,703.8 1822.3,693.1 1823.5,718.3 1824.8,706.8 1826.1,723.3 1827.3,714.2 1828.5,726.6 1829.8,714.0 1831.4,723.0 1832.8,713.3 1833.9,719.4 1835.1,712.9 1836.4,719.0 1837.8,712.7 1838.9,718.1 1840.4,712.7 1841.6,719.6 1843.0,713.1 1844.5,721.5 1845.8,712.3 1847.3,720.1 1848.5,702.5 1850.0,716.2 1851.0,694.0 1852.0,715.0 1853.4,693.2 1855.0,714.8 1856.2,693.6 1857.7,715.1 1859.0,692.9 1860.2,717.0 1861.4,700.1 1862.8,719.6 1864.0,706.5 1865.5,720.4 1866.7,707.0 1867.9,721.6 1869.3,705.4 1870.3,721.0 1871.5,700.4 1873.0,720.5 1874.1,694.9 1875.7,722.7 1876.7,693.5 1878.0,720.7 1879.5,699.1 1881.1,721.9 1882.4,703.9 1883.6,721.2 1885.0,705.1 1886.5,719.9 1887.8,703.5 1889.1,720.1 1890.4,699.9 1891.9,719.0 1893.2,699.2 1894.6,719.0 1895.8,700.5 1897.3,720.5 1898.5,702.5 1900.0,721.2 1901.1,709.7 1902.5,722.9 1904.1,713.4 1905.3,723.7 1906.5,712.5 1907.8,723.7 1908.9,711.7 1910.3,723.7 1911.9,710.5 1912.9,722.9 1914.4,708.6 1915.8,721.7 1917.0,707.7 1918.3,720.0 1919.4,706.3 1920.8,720.8 1922.1,705.2 1923.7,720.8 1925.0,706.3 1926.1,721.0 1927.1,708.4 1928.2,721.8 1929.7,710.5 1931.2,722.9 1932.2,711.8 1933.4,722.1 1934.6,711.6 1935.0,710.2 1936.5,720.9 1937.8,712.0 1939.0,722.0 1940.5,713.0 1942.1,722.8 1943.5,709.1 1944.5,720.6 1946.0,695.8 1947.5,718.5 1948.7,696.5 1950.3,719.3 1951.9,705.7 1953.1,721.0 1954.2,707.2 1955.8,722.4 1957.2,704.7 1958.3,721.2 1959.5,700.2 1960.6,718.8 1961.7,698.4 1962.9,717.4 1964.0,696.7 1965.5,716.8 1966.6,691.8 1967.8,716.3 1968.8,687.6 1970.0,715.9 1971.4,686.4 1972.6,714.6 1973.7,688.6 1975.2,715.2 1976.3,688.8 1977.7,716.6 1979.3,689.1 1980.8,718.0 1982.0,692.7 1983.1,718.8 1984.2,694.1 1985.6,720.3 1986.7,703.7 1987.8,720.1 1988.9,713.9 1990.2,720.4 1991.7,715.3 1993.1,719.9 1994.3,716.0 1995.3,719.7 1996.9,716.6 1998.2,719.3 1999.6,716.9 2000.9,719.4 2001.9,717.1 2003.1,721.4 2004.5,717.7 2005.7,723.7 2007.2,719.4 2008.7,723.6 2009.9,719.0 2011.3,721.6 2012.5,716.3 2013.9,719.5 2015.0,713.7 2016.3,718.2 2017.4,712.7 2018.9,717.8 2020.3,711.5 2021.4,717.8 2022.5,708.3 2023.7,717.6 2024.9,703.6 2026.0,716.0 2027.3,702.1 2028.5,715.6 2029.9,702.0 2030.9,715.0 2032.4,702.7 2033.4,716.4 2034.8,702.1 2035.9,718.6 2037.4,696.3 2038.9,716.1 2040.0,688.1 2041.2,715.2 2042.7,686.9 2043.8,715.0 2045.0,697.5 2046.4,718.2 2047.9,704.7 2049.2,721.1 2050.6,710.8 2051.9,722.2 2053.0,715.8 2054.0,721.5 2055.5,716.1 2056.9,719.6 2058.2,716.2 2059.4,719.4 2060.6,715.6 2061.7,718.9 2062.8,710.9 2064.2,718.2 2065.4,688.8 2066.6,716.2 2067.8,691.6 2069.4,718.6 2070.7,712.4 2072.2,718.7 2073.6,715.6 2075.0,718.9 2076.3,717.8 2077.8,719.7 2079.0,719.4 2080.1,721.1 2081.3,719.7 2082.7,722.4 2083.8,720.1 2085.1,722.9 2086.2,720.4 2087.2,722.1 2088.6,720.1 2090.0,721.1 2091.4,718.8 2092.7,719.0 2093.8,717.2 2094.8,717.0 2096.2,703.3 2097.7,714.3 2098.9,688.8 2100.0,715.8 2101.4,689.0 2102.6,715.6 2104.0,688.2 2105.6,715.9 2107.0,688.1 2108.5,716.9 2109.6,693.8 2110.8,717.9 2112.1,697.8 2113.6,718.3 2114.6,698.3 2116.0,717.3 2117.4,694.0 2119.0,717.8 2120.3,690.1 2121.5,718.3 2122.5,711.3 2123.6,719.9 2125.2,714.8 2126.2,719.6 2127.3,715.2 2128.3,718.6 2129.9,715.1 2131.1,717.9 2132.5,715.0 2133.8,718.7 2135.0,712.9 2136.5,718.8 2137.6,703.3 2138.9,717.2 2140.1,703.7 2141.1,716.6 2142.4,710.2 2144.0,716.3 2145.6,712.8 2146.9,716.2 2148.0,711.6 2149.3,716.1 2150.7,708.3 2152.0,713.9 2153.1,706.6 2154.7,713.0 2155.8,706.1 2157.1,713.9 2158.4,710.0 2159.8,715.5 2161.1,714.6 2162.4,716.6 2163.5,715.4 2164.8,717.1 2166.3,716.1 2167.4,717.4 2168.5,716.8 2169.2,715.9" fill="none" stroke="#e96c5c" stroke-width="11" stroke-linejoin="round" stroke-linecap="butt"/>
<rect x="1256" y="109" width="847" height="199.5" fill="#fff"/>
<line x1="1268" y1="165.7" x2="1480" y2="165.7" stroke="#6cb8e6" stroke-width="11.5"/>
<line x1="1268" y1="251.8" x2="1480" y2="251.8" stroke="#e96c5c" stroke-width="11.5"/>
<text class="lb" x="1494" y="192" font-size="70">No additional control</text>
<text class="lb" x="1497" y="278" font-size="70">AFC-AGC</text>
<text class="tk" x="308.5" y="1311.2" text-anchor="middle">0</text>
<text class="tk" x="773.3" y="1311.2" text-anchor="middle">10</text>
<text class="tk" x="1238.2" y="1311.2" text-anchor="middle">20</text>
<text class="tk" x="1703.0" y="1311.2" text-anchor="middle">30</text>
<text class="tk" x="2167.8" y="1311.2" text-anchor="middle">40</text>
<text class="tk" x="279" y="83.6" text-anchor="end">51</text>
<text class="tk" x="279" y="405.1" text-anchor="end">50.5</text>
<text class="tk" x="279" y="723.5" text-anchor="end">50</text>
<text class="tk" x="279" y="1043.8" text-anchor="end">49.5</text>
<text class="lb" x="1237.5" y="1424.8" font-size="95" letter-spacing="-1" text-anchor="middle">t/s</text>
<text class="lb" transform="translate(89.5,629) rotate(-90)" font-size="95" letter-spacing="-1" text-anchor="middle">f/Hz</text>
</svg></body></html>
